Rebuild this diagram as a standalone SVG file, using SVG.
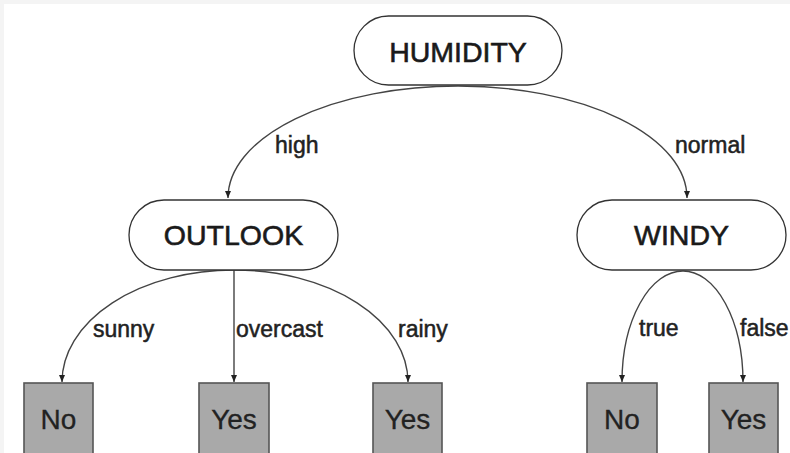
<svg xmlns="http://www.w3.org/2000/svg" width="790" height="453" viewBox="0 0 790 453">
<defs>
<marker id="arr" markerWidth="8" markerHeight="8" refX="7" refY="4" orient="auto" markerUnits="userSpaceOnUse">
<path d="M0,1 L7,4 L0,7 Z" fill="#222"/>
</marker>
<style>
.dec{fill:#fff;stroke:#333;stroke-width:1.3}
.leaf{fill:#a9a9a9;stroke:#555;stroke-width:1.6}
.nt{font-family:"Liberation Sans",Arial,sans-serif;font-size:28.5px;fill:#1a1a1a;stroke:#1a1a1a;stroke-width:0.6;text-anchor:middle}
.lt{font-family:"Liberation Sans",Arial,sans-serif;font-size:28px;fill:#222;stroke:#222;stroke-width:0.3;text-anchor:middle}
.el{font-family:"Liberation Sans",Arial,sans-serif;font-size:23px;fill:#222;stroke:#222;stroke-width:0.5}
.edge{fill:none;stroke:#444;stroke-width:1.4;marker-end:url(#arr)}
</style>
</defs>
<rect x="0" y="0" width="790" height="453" fill="#fff"/>
<rect x="0" y="0" width="790" height="4" fill="#f4f4f4"/>
<rect x="0" y="0" width="4" height="453" fill="#f4f4f4"/>
<g id="connectors">
<path class="edge" d="M458,86 A230,112 0 0 0 228,198"/>
<path class="edge" d="M458,86 A229,112 0 0 1 687,198"/>
<path class="edge" d="M234,270 A172,112 0 0 0 62,382"/>
<path class="edge" d="M234,270 L234,382"/>
<path class="edge" d="M234,270 A174,112 0 0 1 408,382"/>
<path class="edge" d="M683,271 A61,111 0 0 0 622,382"/>
<path class="edge" d="M683,271 A60,111 0 0 1 743,382"/>
<text class="el" x="275" y="153">high</text>
<text class="el" x="675" y="153">normal</text>
<text class="el" x="93" y="337">sunny</text>
<text class="el" x="236" y="337">overcast</text>
<text class="el" x="398" y="337">rainy</text>
<text class="el" x="639" y="336">true</text>
<text class="el" x="740" y="336">false</text>
</g>
<g id="humidity">
<rect class="dec" x="354" y="16" width="208" height="69" rx="34.5"/>
<text class="nt" x="458" y="62">HUMIDITY</text>
</g>
<g id="outlook">
<rect class="dec" x="129" y="200" width="209" height="70" rx="35"/>
<text class="nt" x="233.5" y="245">OUTLOOK</text>
</g>
<g id="windy">
<rect class="dec" x="577" y="200" width="209" height="70" rx="35"/>
<text class="nt" x="681.5" y="245">WINDY</text>
</g>
<g id="leaf-no-1">
<rect class="leaf" x="24" y="383" width="69" height="75"/>
<text class="lt" x="58.5" y="429">No</text>
</g>
<g id="leaf-yes-1">
<rect class="leaf" x="199" y="383" width="70" height="75"/>
<text class="lt" x="234" y="429">Yes</text>
</g>
<g id="leaf-yes-2">
<rect class="leaf" x="373" y="383" width="69" height="75"/>
<text class="lt" x="407.5" y="429">Yes</text>
</g>
<g id="leaf-no-2">
<rect class="leaf" x="587" y="383" width="70" height="75"/>
<text class="lt" x="622" y="429">No</text>
</g>
<g id="leaf-yes-3">
<rect class="leaf" x="709" y="383" width="69" height="75"/>
<text class="lt" x="743.5" y="429">Yes</text>
</g>
</svg>
